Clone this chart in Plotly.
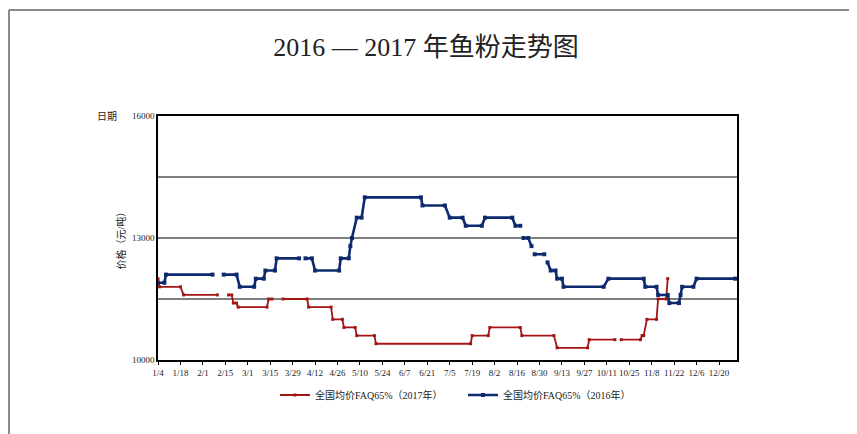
import plotly.graph_objects as go

YEAR = "2017-"

# 全国均价FAQ65%（2017年） — readings at start/end of each price level (None = no data)
dates_2017 = ["01-04", "01-05", "01-18", "01-20", "02-10", "02-13", "02-17", "02-19",
              "02-20", "02-22", "02-23", "03-13", "03-14", "03-16", "03-19", "03-23",
              "04-07", "04-08", "04-22", "04-23", "04-29", "04-30", "05-07", "05-08",
              "05-19", "05-20", "07-18", "07-19", "07-29", "07-30", "08-18", "08-19",
              "09-08", "09-10", "09-29", "09-30", "10-16", "10-18", "10-20", "11-01",
              "11-02", "11-03", "11-05", "11-11", "11-12", "11-17", "11-18"]
values_2017 = [12000, 11800, 11800, 11600, 11600, None, 11600, 11600,
               11400, 11400, 11300, 11300, 11500, 11500, None, 11500,
               11500, 11300, 11300, 11000, 11000, 10800, 10800, 10600,
               10600, 10400, 10400, 10600, 10600, 10800, 10800, 10600,
               10600, 10300, 10300, 10500, 10500, None, 10500, 10500,
               10600, 10600, 11000, 11000, 11500, 11500, 12000]

# 全国均价FAQ65%（2016年）
dates_2016 = ["01-04", "01-08", "01-09", "02-07", "02-10", "02-14", "02-22", "02-24",
              "03-05", "03-06", "03-11", "03-12", "03-18", "03-19", "04-02", "04-04",
              "04-06", "04-10", "04-12", "04-27", "04-28", "05-03", "05-04", "05-05",
              "05-08", "05-11", "05-13", "06-17", "06-18", "07-02", "07-05", "07-13",
              "07-15", "07-25", "07-27", "08-13", "08-15", "08-18", "08-19", "08-20",
              "08-23", "08-25", "08-26", "08-27", "09-02", "09-03", "09-04", "09-06",
              "09-09", "09-10", "09-13", "09-14", "10-09", "10-12", "11-03", "11-04",
              "11-11", "11-12", "11-18", "11-19", "11-25", "11-26", "11-27", "12-04",
              "12-06", "12-30"]
values_2016 = [11900, 11900, 12100, 12100, None, 12100, 12100, 11800,
               11800, 12000, 12000, 12200, 12200, 12500, 12500, None,
               12500, 12500, 12200, 12200, 12500, 12500, 12800, 13000,
               13500, 13500, 14000, 14000, 13800, 13800, 13500, 13500,
               13300, 13300, 13500, 13500, 13300, 13300, None, 13000,
               13000, 12800, None, 12600, 12600, None, 12400, 12200,
               12200, 12000, 12000, 11800, 11800, 12000, 12000, 11800,
               11800, 11600, 11600, 11400, 11400, 11600, 11800, 11800,
               12000, 12000]

name_2017 = "全国均价FAQ65%（2017年）"
name_2016 = "全国均价FAQ65%（2016年）"
title_text = "2016 — 2017 年鱼粉走势图"
y_label = "价格（元/吨）"
x_label = "日期"
y_tick_vals = [10000, 13000, 16000]
y_grid_vals = [11500, 13000, 14500]

SERIF = "Liberation Serif, Noto Sans CJK SC, serif"

fig = go.Figure()
fig.add_trace(go.Scatter(
    x=[YEAR + d for d in dates_2017], y=values_2017, name=name_2017,
    mode="lines+markers", connectgaps=False,
    line=dict(color="#a31515", width=1.8),
    marker=dict(color="#a31515", size=3, symbol="square"),
))
fig.add_trace(go.Scatter(
    x=[YEAR + d for d in dates_2016], y=values_2016, name=name_2016,
    mode="lines+markers", connectgaps=False,
    line=dict(color="#0d2a6e", width=2.6),
    marker=dict(color="#0d2a6e", size=4, symbol="square"),
))

# page offset (body margin) and figure geometry
OX, OY = 8, 8
W, H = 849, 426
L, R, T, B = 150, 120, 108, 74
pw, ph = W - L - R, H - T - B
fx = lambda px: (px - OX - L) / pw      # page px -> paper x
fy = lambda py: (H - B - (py - OY)) / ph  # page px -> paper y

fig.update_layout(
    width=W, height=H,
    margin=dict(l=L, r=R, t=T, b=B, autoexpand=False),
    paper_bgcolor="white", plot_bgcolor="white",
    font=dict(family=SERIF, size=9, color="#222"),
    title=dict(text=title_text, x=(426 - OX) / W, xref="container", xanchor="center",
               y=1 - (47 - OY) / H, yref="container", yanchor="middle",
               font=dict(family=SERIF, size=26, color="#222")),
    showlegend=True,
    legend=dict(orientation="h", x=fx(275), xanchor="left", y=fy(395), yanchor="middle",
                font=dict(family=SERIF, size=10, color="#222"),
                entrywidth=143, entrywidthmode="pixels", itemwidth=30,
                bgcolor="rgba(0,0,0,0)"),
    shapes=[
        dict(type="line", xref="paper", yref="paper", x0=fx(9), x1=fx(870),
             y0=fy(10), y1=fy(10), line=dict(color="#8a8a8a", width=2)),
        dict(type="line", xref="paper", yref="paper", x0=fx(9), x1=fx(9),
             y0=fy(10), y1=fy(445), line=dict(color="#8a8a8a", width=2)),
    ],
    annotations=[
        dict(text=x_label, xref="paper", yref="paper", x=fx(107), y=fy(116),
             showarrow=False, xanchor="center", yanchor="middle",
             font=dict(family=SERIF, size=10, color="#222")),
    ],
)

fig.update_xaxes(
    type="date", automargin=False,
    range=["2017-01-04", "2017-12-31 05:00"],
    tick0="2017-01-04", dtick=14 * 86400000, tickformat="%-m/%-d", tickangle=0,
    ticks="outside", ticklen=3, tickcolor="black", tickwidth=1,
    showgrid=False, zeroline=False,
    showline=True, linecolor="black", linewidth=1.5, mirror=True,
    tickfont=dict(family=SERIF, size=9, color="#222"),
)
fig.update_yaxes(
    range=[10000, 16000], automargin=False,
    tickmode="array", tickvals=y_tick_vals, tickformat="d", ticks="",
    showgrid=False, zeroline=False,
    minor=dict(tickmode="array", tickvals=y_grid_vals, showgrid=True,
               gridcolor="#7f7f7f", gridwidth=1.5, ticks=""),
    showline=True, linecolor="black", linewidth=1.5, mirror=True,
    tickfont=dict(family=SERIF, size=9, color="#222"),
    title=dict(text=y_label, standoff=4, font=dict(family=SERIF, size=10, color="#222")),
)

fig.write_html("out.html")
